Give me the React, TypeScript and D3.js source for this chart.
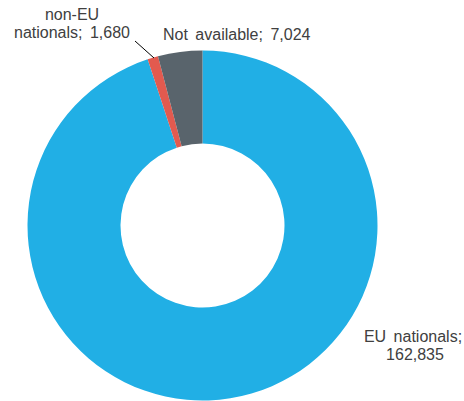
import React from "react";
import * as d3 from "d3";

const categories = ["EU nationals", "non-EU nationals", "Not available"];
const values = [162835, 1680, 7024];
const colors = ["#21AFE5", "#E25A4F", "#59646C"];

const W = 464;
const H = 401;
const cx = 202.5;
const cy = 225.5;
const outerR = 175;
const innerR = 82;

export default function App() {
  const data = categories.map((c, i) => ({ c, v: values[i], col: colors[i] }));
  const pie = d3
    .pie<any>()
    .sort(null)
    .value((d: any) => d.v)
    .startAngle(0)
    .endAngle(2 * Math.PI);
  const arcs = pie(data);
  const arc = d3.arc<any>().innerRadius(innerR).outerRadius(outerR);
  const fmt = d3.format(",");
  const font = "'Liberation Sans', Arial, sans-serif";
  const fs = 16;
  const tc = "#404040";

  return (
    <svg
      width={W}
      height={H}
      style={{ position: "absolute", left: 0, top: 0, background: "#fff" }}
    >
      <g transform={`translate(${cx},${cy})`}>
        {arcs.map((a, i) => (
          <path key={i} d={arc(a) as string} fill={a.data.col} />
        ))}
      </g>
      <g fontFamily={font} fontSize={fs} fill={tc}>
        <text x={72} y={20} textAnchor="middle">non-EU</text>
        <text x={72} y={38} textAnchor="middle" style={{ wordSpacing: "3px" }}>
          {`nationals; ${fmt(values[1])}`}
        </text>
        <line x1={135} y1={41} x2={154} y2={58} stroke="#000" strokeWidth={1} />
        <text x={163} y={40} style={{ wordSpacing: "3px" }}>
          {`${categories[2]}; ${fmt(values[2])}`}
        </text>
        <text x={413} y={342} textAnchor="middle" style={{ wordSpacing: "3px" }}>
          {`${categories[0]};`}
        </text>
        <text x={415} y={360} textAnchor="middle">{fmt(values[0])}</text>
      </g>
    </svg>
  );
}
